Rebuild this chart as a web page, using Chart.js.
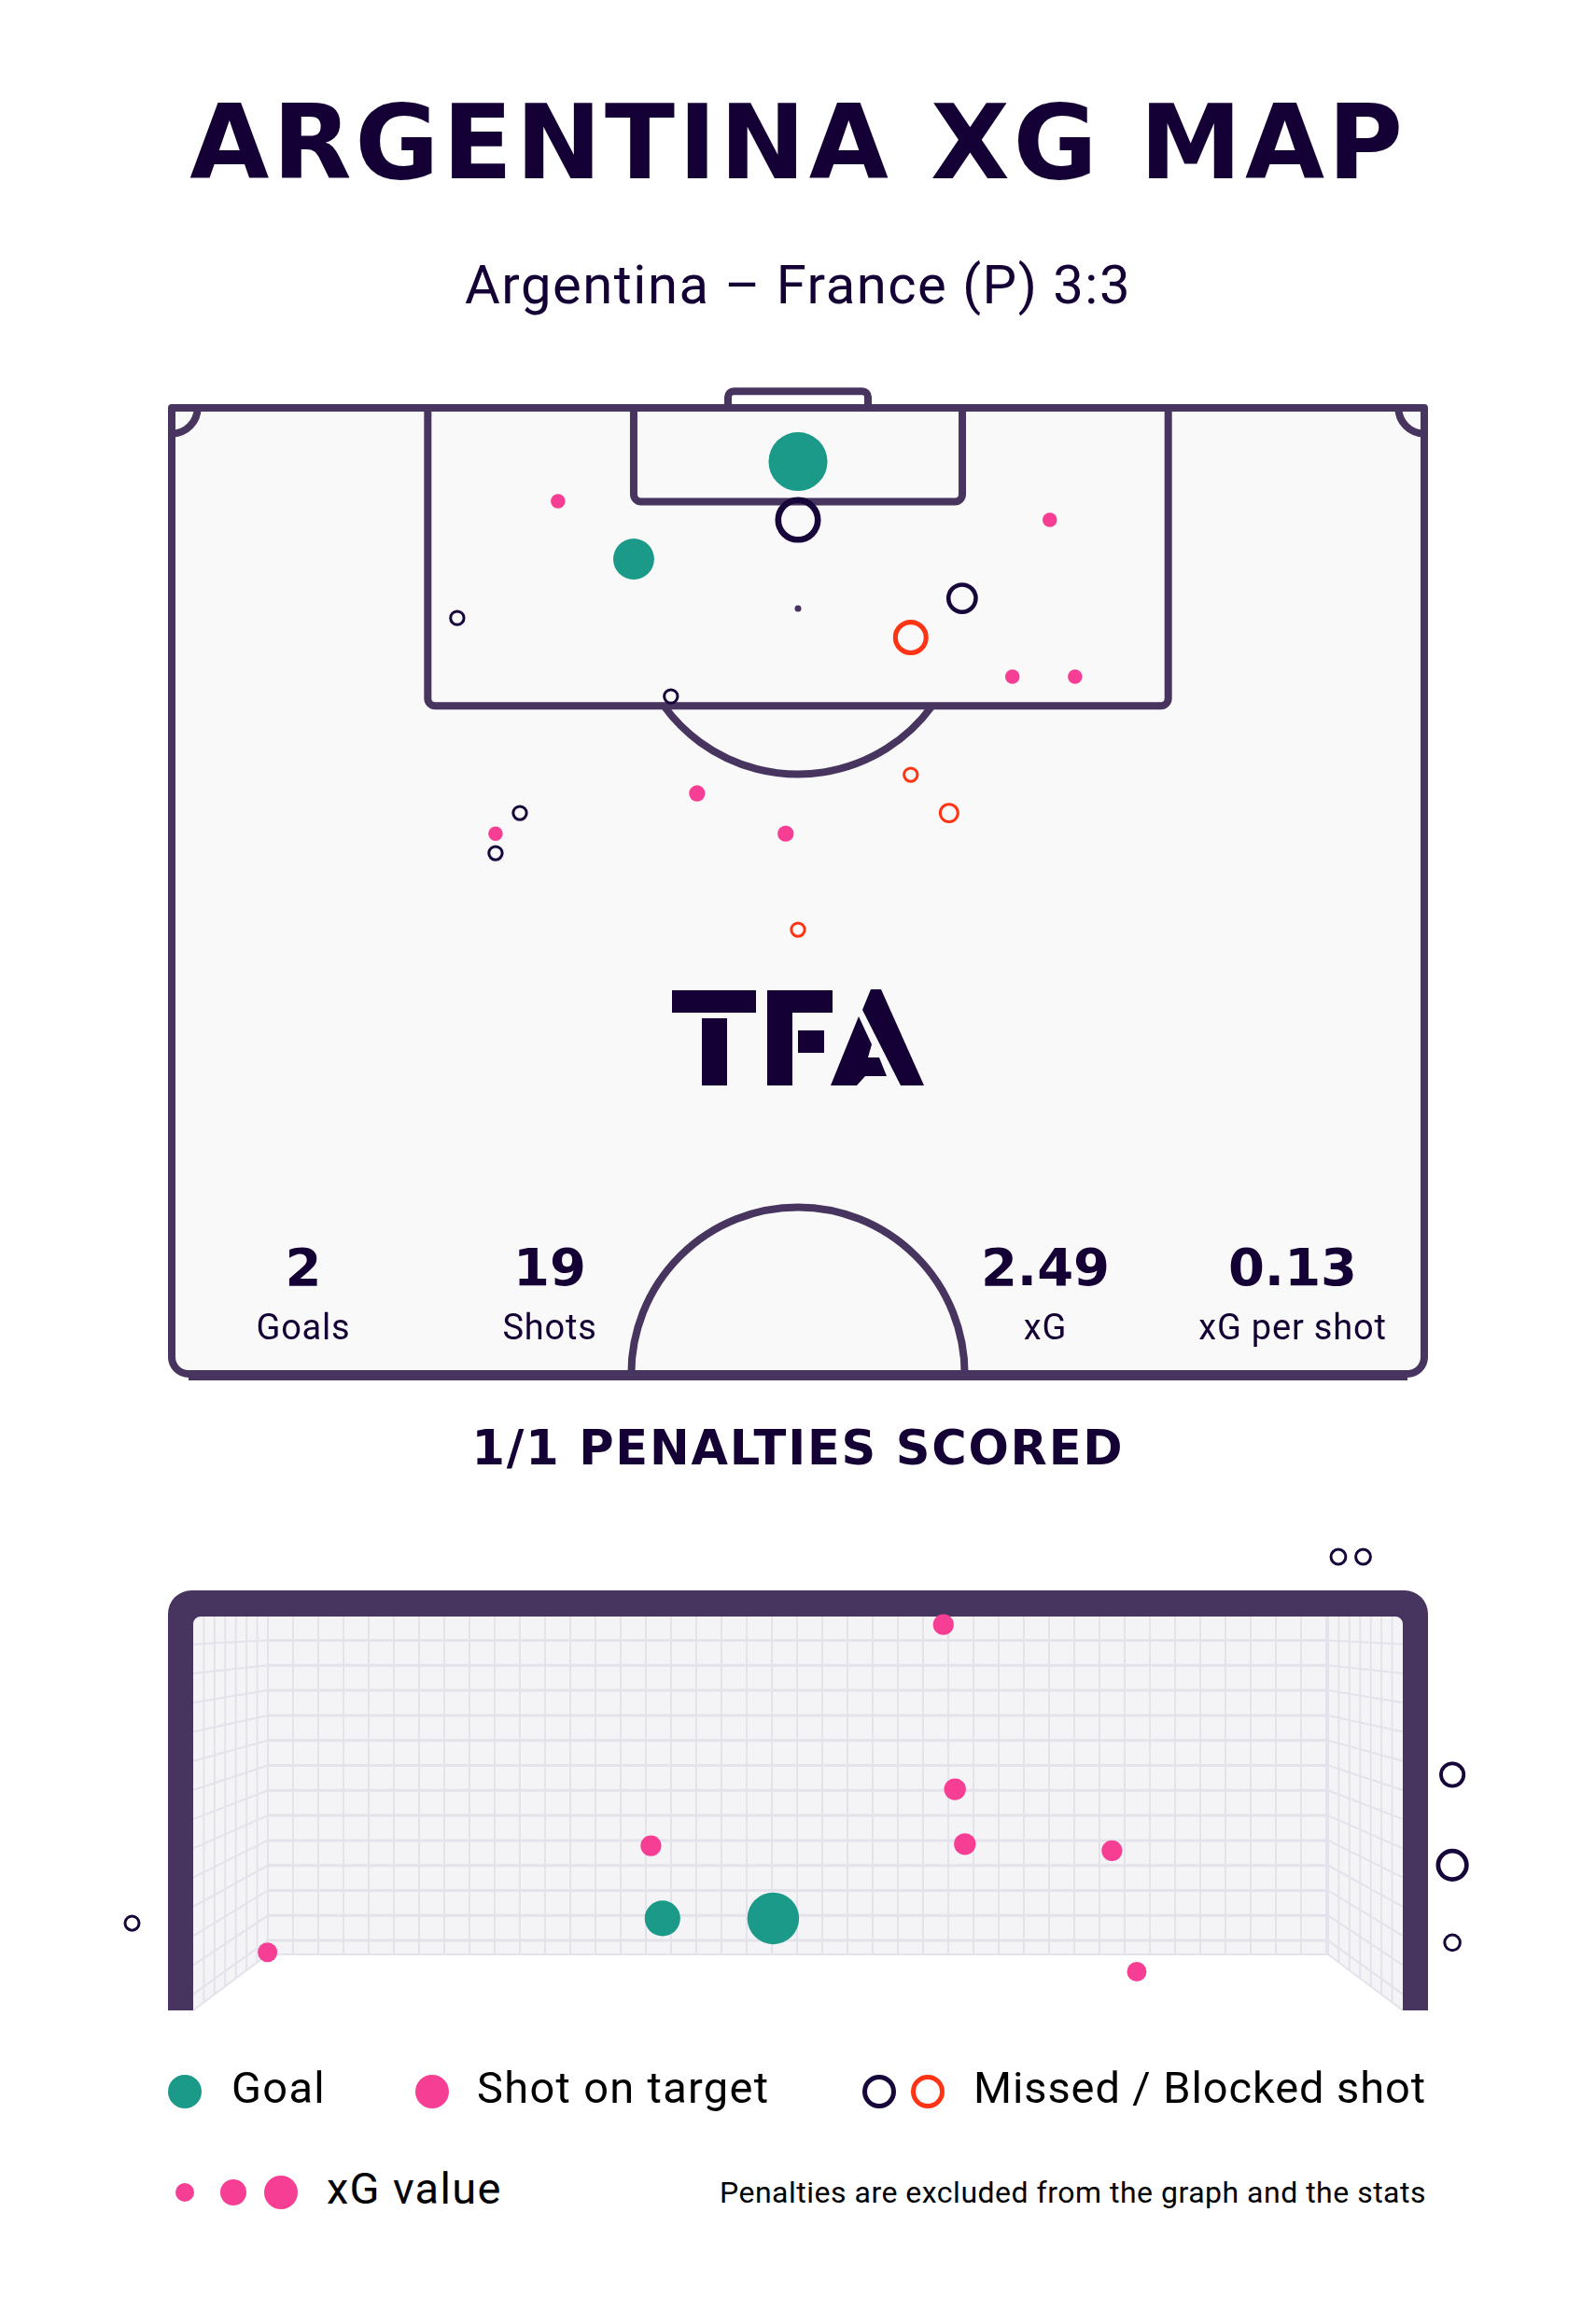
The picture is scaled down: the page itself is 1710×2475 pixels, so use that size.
<!DOCTYPE html>
<html>
<head>
<meta charset="utf-8">
<title>Argentina xG map</title>
<script src="https://cdn.jsdelivr.net/npm/chart.js@4.4.1/dist/chart.umd.min.js"></script>
<style>
  html, body { margin: 0; padding: 0; background: #fff; }
  body { width: 1710px; height: 2475px; position: relative; overflow: hidden;
         font-family: Roboto, "Noto Sans", sans-serif; color: #140035; }
  .abs { position: absolute; white-space: nowrap; }
  canvas { position: absolute; left: 0; }
  #title { left: 0; width: 1710px; text-align: center; top: 98px;
           font: bold 110px/1 "DejaVu Sans"; letter-spacing: 3.5px; }
  #subtitle { left: 0; width: 1710px; text-align: center; top: 276px;
              font: 400 58px/1 Roboto; letter-spacing: 1.5px; }
  .statNum { width: 300px; text-align: center; top: 1330px; font: bold 56px/1 "DejaVu Sans"; }
  .statLab { width: 300px; text-align: center; top: 1403px; font: 400 38px/1 Roboto; letter-spacing: 0.8px; }
  #pens { left: 0; width: 1710px; text-align: center; top: 1526px;
          font: bold 51px/1 "DejaVu Sans"; letter-spacing: 1.8px; }
  .leg { top: 2213px; font: 400 47px/1 Roboto; color: #000; letter-spacing: 1.3px; }
  .dot { position: absolute; border-radius: 50%; box-sizing: border-box; }
  #note { right: 182px; top: 2333px; font: 400 32px/1 Roboto; color: #000; letter-spacing: 0.5px; }
</style>
</head>
<body>
<div class="abs" id="title">ARGENTINA XG MAP</div>
<div class="abs" id="subtitle">Argentina – France (P) 3:3</div>

<canvas id="pitch" width="1710" height="1520" style="top:0;width:1710px;height:1520px"></canvas>
<div id="stats"></div>

<div class="abs" id="pens">1/1 PENALTIES SCORED</div>

<canvas id="goal" width="1710" height="700" style="top:1600px;width:1710px;height:700px"></canvas>

<div id="legend"></div>
<div class="abs" id="note">Penalties are excluded from the graph and the stats</div>

<script>
// shots on the pitch, in metres: x across the pitch, y out from the goal line
const shotX = [34.0, 25.08, 20.97, 47.67, 34.0, 42.91, 40.12, 15.50, 45.64, 49.04,
               27.10, 40.12, 28.52, 18.90, 42.20, 17.58, 17.58, 33.33, 34.0];
const shotY = [2.92, 8.22, 5.07, 6.09, 6.09, 10.35, 12.48, 11.42, 14.61, 14.61,
               15.68, 19.94, 20.95, 22.02, 22.02, 23.14, 24.20, 23.14, 28.36];
const shotXg = [0.66, 0.32, 0.04, 0.04, 0.40, 0.19, 0.24, 0.05, 0.04, 0.04,
                0.05, 0.05, 0.05, 0.05, 0.08, 0.04, 0.05, 0.05, 0.05];
const shotResult = ['goal', 'goal', 'saved', 'saved', 'missed', 'missed', 'blocked', 'missed', 'saved', 'saved',
                    'missed', 'blocked', 'saved', 'missed', 'blocked', 'saved', 'missed', 'saved', 'blocked'];

// the same shots seen from the front, in metres from the left post / the ground
const goalX = [4.54, 4.61, 2.77, 4.67, 5.56, 2.84, 3.51, 0.45, 5.71, -0.37, 6.93, 7.08, 7.62, 7.62, 7.62];
const goalY = [2.39, 1.37, 1.02, 1.03, 0.99, 0.57, 0.57, 0.36, 0.24, 0.54, 2.81, 2.81, 1.46, 0.90, 0.42];
const goalXg = [0.06, 0.07, 0.06, 0.07, 0.06, 0.27, 0.67, 0.05, 0.05, 0.03, 0.035, 0.035, 0.12, 0.22, 0.04];
const goalResult = ['saved', 'saved', 'saved', 'saved', 'saved', 'goal', 'goal', 'saved', 'saved',
                    'missed', 'missed', 'missed', 'missed', 'missed', 'missed'];

const statValues = ['2', '19', '2.49', '0.13'];
const statLabels = ['Goals', 'Shots', 'xG', 'xG per shot'];

const LINE = '#47355f';
const INK = '#140035';
const COLORS = { goal: '#1b9a89', saved: '#f63f94', missed: '#16063a', blocked: '#ff3414' };
const RESULTS = ['goal', 'saved', 'missed', 'blocked'];

// stats row inside the pitch
const statCx = [325, 589, 1120, 1385];
const statsBox = document.getElementById('stats');
statValues.forEach((v, i) => {
    statsBox.insertAdjacentHTML('beforeend',
        `<div class="abs statNum" style="left:${statCx[i] - 150}px">${v}</div>` +
        `<div class="abs statLab" style="left:${statCx[i] - 150}px">${statLabels[i]}</div>`);
});

// legend
const legendBox = document.getElementById('legend');
const dot = (cx, cy, r, fill, ring) => {
    const style = ring
        ? `border:5px solid ${ring};`
        : `background:${fill};`;
    legendBox.insertAdjacentHTML('beforeend',
        `<div class="dot" style="left:${cx - r}px;top:${cy - r}px;width:${2 * r}px;height:${2 * r}px;${style}"></div>`);
};
dot(198, 2241, 18, COLORS.goal);
dot(463, 2241, 18, COLORS.saved);
dot(942, 2241, 18, null, COLORS.missed);
dot(994, 2241, 18, null, COLORS.blocked);
dot(198, 2349, 10, COLORS.saved);
dot(250, 2349, 14, COLORS.saved);
dot(301, 2349, 18, COLORS.saved);
legendBox.insertAdjacentHTML('beforeend',
    '<div class="abs leg" style="left:248px">Goal</div>' +
    '<div class="abs leg" style="left:511px">Shot on target</div>' +
    '<div class="abs leg" style="left:1043px;letter-spacing:0.9px">Missed / Blocked shot</div>' +
    '<div class="abs leg" style="left:350px;top:2321px">xG value</div>');

// point styling: filled for goals/saved, rings for missed/blocked
const buildDatasets = (xs, ys, xgs, results, sizeOf) => RESULTS.map(res => {
    const idx = results.map((r, i) => r === res ? i : -1).filter(i => i >= 0);
    const ring = res === 'missed' || res === 'blocked';
    const outer = idx.map(i => sizeOf(xgs[i]));
    const bw = outer.map(r => ring ? Math.max(3, r * 0.27) : 0);
    return {
        label: res,
        data: idx.map(i => ({ x: xs[i], y: ys[i] })),
        pointRadius: outer.map((r, k) => ring ? r - bw[k] / 2 : r),
        pointHoverRadius: outer.map((r, k) => ring ? r - bw[k] / 2 : r),
        pointBorderWidth: bw,
        pointBackgroundColor: ring ? 'rgba(0,0,0,0)' : COLORS[res],
        pointBorderColor: COLORS[res],
        showLine: false,
        clip: false
    };
});

/**
 * Pitch drawing (half pitch, goal at the top)
 */
const pitchLines = {
    id: 'pitchLines',
    beforeDatasetsDraw(chart) {
        const { ctx, scales: { x, y } } = chart;
        const px = v => x.getPixelForValue(v);
        const py = v => y.getPixelForValue(v);
        const m = px(1) - px(0);
        ctx.save();
        ctx.strokeStyle = LINE;
        ctx.lineWidth = 8;
        ctx.lineJoin = 'round';

        // goal frame sticking out above the goal line
        ctx.beginPath();
        ctx.roundRect(px(34 - 3.8), py(-0.9), px(34 + 3.8) - px(34 - 3.8), py(0) - py(-0.9), [6, 6, 0, 0]);
        ctx.fillStyle = '#fff';
        ctx.fill();
        ctx.stroke();

        // grass + outline
        ctx.beginPath();
        ctx.roundRect(px(0), py(0), px(68) - px(0), py(52.5) - py(0), [0, 0, 18, 18]);
        ctx.fillStyle = '#f9f9f9';
        ctx.fill();
        ctx.stroke();
        // slightly heavier bottom edge
        ctx.beginPath();
        ctx.moveTo(px(0) + 18, py(52.5) + 3);
        ctx.lineTo(px(68) - 18, py(52.5) + 3);
        ctx.stroke();

        // penalty box and six-yard box
        ctx.beginPath();
        ctx.roundRect(px(34 - 20.1), py(0), px(34 + 20.1) - px(34 - 20.1), py(16.2) - py(0), [0, 0, 8, 8]);
        ctx.stroke();
        ctx.beginPath();
        ctx.roundRect(px(34 - 8.92), py(0), px(34 + 8.92) - px(34 - 8.92), py(5.1) - py(0), [0, 0, 8, 8]);
        ctx.stroke();

        // corner arcs
        ctx.beginPath();
        ctx.arc(px(0), py(0), 1.4 * m, 0, Math.PI / 2);
        ctx.stroke();
        ctx.beginPath();
        ctx.arc(px(68), py(0), 1.4 * m, Math.PI / 2, Math.PI);
        ctx.stroke();

        // penalty spot + D
        ctx.beginPath();
        ctx.arc(px(34), py(10.9), 3.5, 0, Math.PI * 2);
        ctx.fillStyle = LINE;
        ctx.fill();
        const a = Math.asin((16.2 - 10.9) / 9.0);
        ctx.beginPath();
        ctx.arc(px(34), py(10.9), 9.0 * m, a, Math.PI - a);
        ctx.stroke();

        // centre circle
        ctx.beginPath();
        ctx.arc(px(34), py(52.5), 9.05 * m, Math.PI, Math.PI * 2);
        ctx.stroke();

        // TFA mark
        ctx.fillStyle = INK;
        const poly = pts => {
            ctx.beginPath();
            pts.forEach(([a, b], i) => i ? ctx.lineTo(a, b) : ctx.moveTo(a, b));
            ctx.closePath();
            ctx.fill();
        };
        ctx.fillRect(720, 1061, 90, 24);
        ctx.fillRect(752, 1091, 27, 72);
        ctx.fillRect(822, 1061, 70, 24);
        ctx.fillRect(822, 1061, 27, 102);
        ctx.fillRect(855, 1104, 28, 24);
        poly([[924, 1082], [933, 1060], [944, 1060], [990, 1163], [965, 1163]]);
        poly([[920, 1089], [934, 1119], [930, 1133], [942, 1133], [950, 1153], [927, 1153], [918, 1163], [890, 1163]]);
        ctx.restore();
    }
};

/**
 * Goal mouth seen from the front
 */
const goalFrame = {
    id: 'goalFrame',
    beforeDatasetsDraw(chart) {
        const { ctx, scales: { x, y } } = chart;
        const L = x.getPixelForValue(0), R = x.getPixelForValue(7.32);
        const T = y.getPixelForValue(2.44), B = y.getPixelForValue(0);
        const depth = 80, bL = L + depth, bR = R - depth, bB = B - 60;
        const post = 27;
        ctx.save();

        // net background
        ctx.beginPath();
        ctx.moveTo(L, T); ctx.lineTo(R, T); ctx.lineTo(R, B); ctx.lineTo(bR, bB);
        ctx.lineTo(bL, bB); ctx.lineTo(L, B); ctx.closePath();
        ctx.fillStyle = '#f4f4f7';
        ctx.fill();

        ctx.strokeStyle = '#e4e2ea';
        // back net verticals
        ctx.lineWidth = 2;
        for (let gx = bL; gx <= bR + 1; gx += 27) {
            ctx.beginPath(); ctx.moveTo(gx, T); ctx.lineTo(gx, bB); ctx.stroke();
        }
        // back net horizontals, continued onto the side panels
        const sideY = yb => T + (yb - T) * (B - T) / (bB - T);
        for (let gy = T + 25.5; gy <= bB + 1; gy += 26.8) {
            ctx.lineWidth = 3;
            ctx.beginPath(); ctx.moveTo(bL, gy); ctx.lineTo(bR, gy); ctx.stroke();
            ctx.lineWidth = 2;
            ctx.beginPath(); ctx.moveTo(L, sideY(gy)); ctx.lineTo(bL, gy); ctx.stroke();
            ctx.beginPath(); ctx.moveTo(R, sideY(gy)); ctx.lineTo(bR, gy); ctx.stroke();
        }
        // side panel verticals
        ctx.lineWidth = 2;
        for (let k = 1; k <= 7; k++) {
            const dx = k * depth / 7;
            const yl = B + (bB - B) * dx / depth;
            ctx.beginPath(); ctx.moveTo(L + dx, T); ctx.lineTo(L + dx, yl); ctx.stroke();
            ctx.beginPath(); ctx.moveTo(R - dx, T); ctx.lineTo(R - dx, yl); ctx.stroke();
        }
        ctx.beginPath();
        ctx.moveTo(L, B); ctx.lineTo(bL, bB); ctx.lineTo(bR, bB); ctx.lineTo(R, B);
        ctx.stroke();

        // posts and crossbar
        const Lo = L - post, Ro = R + post, To = T - 28;
        ctx.beginPath();
        ctx.moveTo(Lo, B);
        ctx.lineTo(Lo, To + 25);
        ctx.arcTo(Lo, To, Lo + 25, To, 25);
        ctx.lineTo(Ro - 25, To);
        ctx.arcTo(Ro, To, Ro, To + 25, 25);
        ctx.lineTo(Ro, B);
        ctx.lineTo(R, B);
        ctx.lineTo(R, T + 8);
        ctx.arcTo(R, T, R - 8, T, 8);
        ctx.lineTo(L + 8, T);
        ctx.arcTo(L, T, L, T + 8, 8);
        ctx.lineTo(L, B);
        ctx.closePath();
        ctx.fillStyle = LINE;
        ctx.fill();
        ctx.restore();
    }
};

const baseOptions = (padding, xr, yr, reverseY) => ({
    responsive: false,
    animation: false,
    devicePixelRatio: 1,
    layout: { padding },
    plugins: { legend: { display: false }, tooltip: { enabled: false } },
    scales: {
        x: { type: 'linear', min: xr[0], max: xr[1], display: false },
        y: { type: 'linear', min: yr[0], max: yr[1], display: false, reverse: reverseY }
    }
});

new Chart(document.getElementById('pitch'), {
    type: 'scatter',
    data: { datasets: buildDatasets(shotX, shotY, shotXg, shotResult, xg => 38.8 * Math.sqrt(xg)) },
    options: baseOptions({ left: 184, right: 184, top: 437, bottom: 48 }, [0, 68], [0, 52.5], true),
    plugins: [pitchLines]
});

// goal view: the scale runs a little past the posts and bar so the wide shots stay in range
// (posts at 207/1503 px, bar at 132 px, ground at 554 px of this canvas)
new Chart(document.getElementById('goal'), {
    type: 'scatter',
    data: { datasets: buildDatasets(goalX, goalY, goalXg, goalResult, xg => 4 + 29 * Math.sqrt(xg)) },
    options: baseOptions({ left: 29.95, right: 33.5, top: 35.15, bottom: 146 }, [-1, 8.3], [0, 3.0], false),
    plugins: [goalFrame]
});
</script>
</body>
</html>
